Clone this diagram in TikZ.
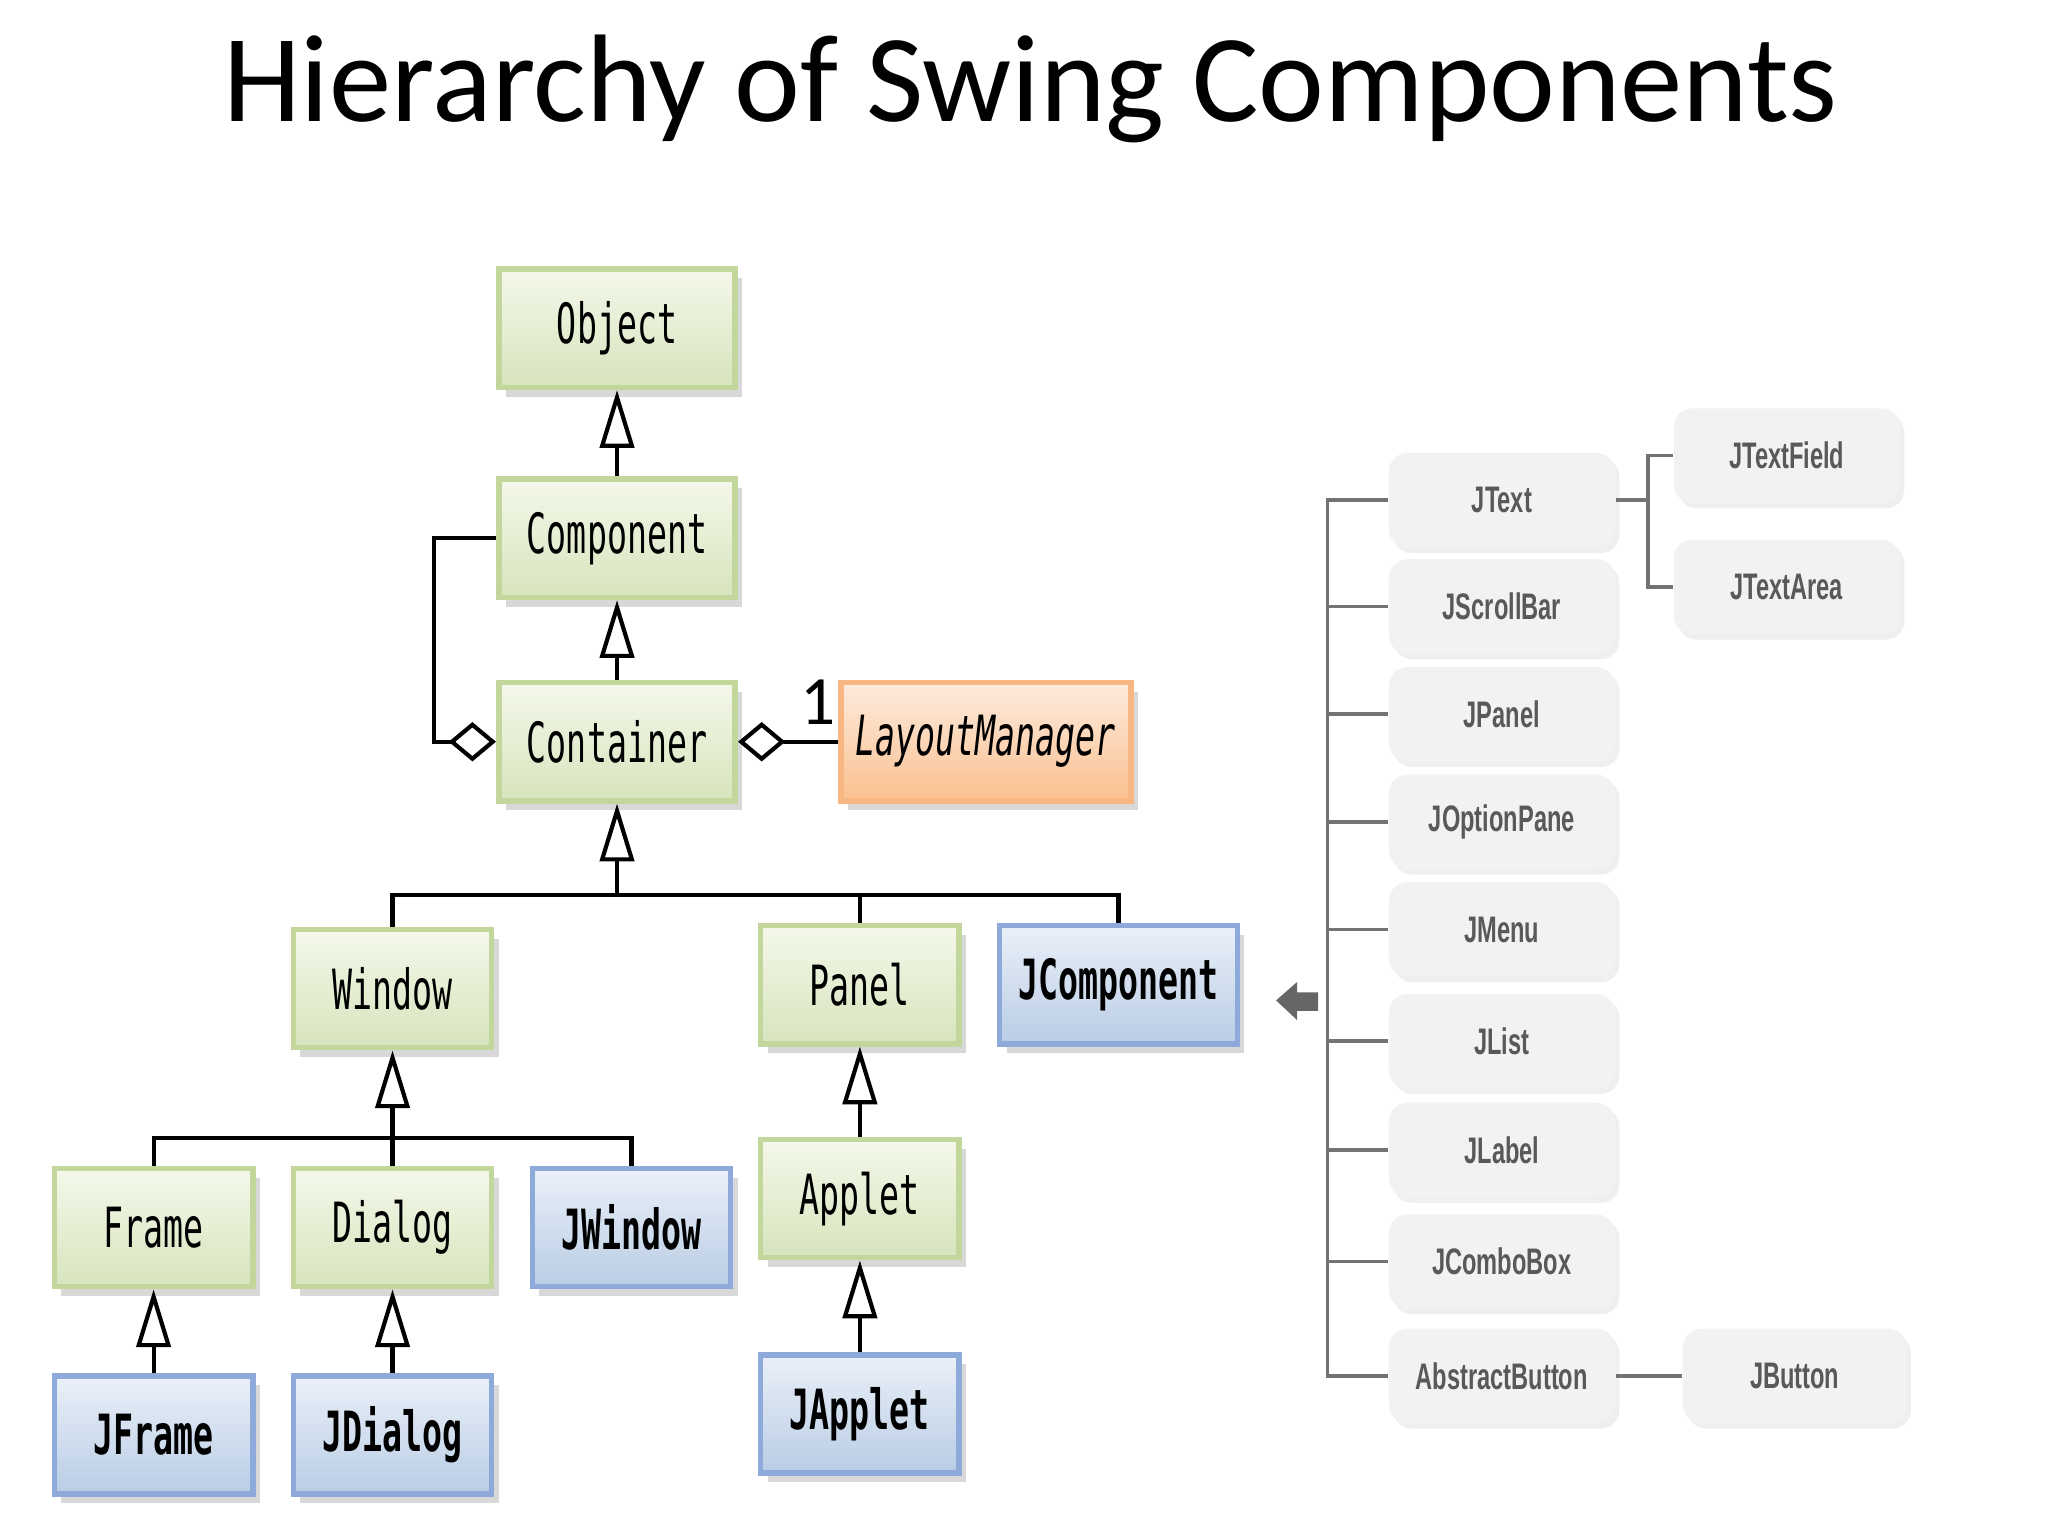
\documentclass[tikz,border=0pt]{standalone}
\usepackage{fontspec}
\setmainfont{Carlito}
\newfontfamily\boxfont[FakeStretch=0.6]{DejaVu Sans Mono}
\newfontfamily\rfont[FakeStretch=0.64]{Liberation Sans}
\usetikzlibrary{arrows.meta,shadows}
\definecolor{gborder}{HTML}{C3D69B}
\definecolor{gtop}{HTML}{F4F8EA}
\definecolor{gbot}{HTML}{D7E4BD}
\definecolor{bborder}{HTML}{8EAADB}
\definecolor{btop}{HTML}{EAF0F8}
\definecolor{bbot}{HTML}{B9CDE5}
\definecolor{oborder}{HTML}{F8B782}
\definecolor{otop}{HTML}{FDEBDD}
\definecolor{obot}{HTML}{FAC090}
\begin{document}
\begin{tikzpicture}[x=0.01cm,y=-0.01cm,
  base/.style={draw,line width=1.2pt,font=\boxfont\fontsize{12pt}{14pt}\selectfont,inner sep=0pt,
    drop shadow={shadow xshift=1.5pt,shadow yshift=-2pt,fill=black!30}},
  gbox/.style={base,draw=gborder,top color=gtop,bottom color=gbot},
  bbox/.style={base,draw=bborder,top color=btop,bottom color=bbot,font=\boxfont\bfseries\fontsize{12pt}{14pt}\selectfont},
  obox/.style={base,draw=oborder,top color=otop,bottom color=obot,font=\boxfont\itshape\fontsize{12pt}{14pt}\selectfont},
  rbox/.style={draw=none,fill=black!5,rounded corners=4pt,minimum width=1.72cm,minimum height=0.72cm,
    font=\rfont\bfseries\fontsize{8pt}{10pt}\selectfont,text=black!65,
    drop shadow={shadow xshift=1pt,shadow yshift=-1.2pt,fill=black!12}},
  inh/.style={-{Triangle[open,length=0.44cm,width=0.26cm,line width=0.9pt]},line width=0.9pt},
  agg/.style={-{Diamond[open,length=0.36cm,width=0.3cm,line width=0.9pt]},line width=0.9pt},
  ln/.style={line width=0.9pt},
  rl/.style={line width=0.8pt,draw=black!55}]
\useasboundingbox (0,0) rectangle (1560,1170);
\node[font=\fontsize{27pt}{32pt}\selectfont] (title) at (785,68) {Hierarchy of Swing Components};
% left boxes
\node[gbox,minimum width=1.8cm,minimum height=0.9cm] (Object) at (470,250) {Object};
\node[gbox,minimum width=1.8cm,minimum height=0.9cm] (Component) at (470,410) {Component};
\node[gbox,minimum width=1.8cm,minimum height=0.9cm] (Container) at (470,565) {Container};
\node[obox,minimum width=2.21cm,minimum height=0.9cm] (Layout) at (751,565) {LayoutManager};
\node[gbox,minimum width=1.51cm,minimum height=0.9cm] (Window) at (299,753) {Window};
\node[gbox,minimum width=1.51cm,minimum height=0.9cm] (Panel) at (655,750) {Panel};
\node[bbox,minimum width=1.81cm,minimum height=0.9cm] (JComponent) at (852,750) {JComponent};
\node[gbox,minimum width=1.51cm,minimum height=0.9cm] (Frame) at (117,935) {Frame};
\node[gbox,minimum width=1.51cm,minimum height=0.9cm] (Dialog) at (299,935) {Dialog};
\node[bbox,minimum width=1.51cm,minimum height=0.9cm] (JWindow) at (481,935) {JWindow};
\node[gbox,minimum width=1.51cm,minimum height=0.9cm] (Applet) at (655,913) {Applet};
\node[bbox,minimum width=1.51cm,minimum height=0.9cm] (JFrame) at (117,1093) {JFrame};
\node[bbox,minimum width=1.51cm,minimum height=0.9cm] (JDialog) at (299,1093) {JDialog};
\node[bbox,minimum width=1.51cm,minimum height=0.9cm] (JApplet) at (655,1077) {JApplet};
% inheritance
\draw[inh] (Component.north) -- (Object.south);
\draw[inh] (Container.north) -- (Component.south);
\coordinate (b1) at (470,682);
\draw[inh] (b1) -- (Container.south);
\draw[ln] (Window.north) |- (b1) -| (JComponent.north);
\draw[ln] (Panel.north) -- (Panel.north |- b1);
\coordinate (b2) at (299,867);
\draw[inh] (b2) -- (Window.south);
\draw[ln] (Frame.north) |- (b2) -| (JWindow.north);
\draw[ln] (Dialog.north) -- (b2);
\draw[inh] (Applet.north) -- (Panel.south);
\draw[inh] (JApplet.north) -- (Applet.south);
\draw[inh] (JFrame.north) -- (Frame.south);
\draw[inh] (JDialog.north) -- (Dialog.south);
% aggregation
\draw[agg] (Component.west) -- ++(-47,0) |- (Container.west);
\draw[agg] (Layout.west) -- (Container.east);
\node[font=\fontsize{15pt}{17pt}\selectfont] (one) at (623,535) {1};
% right side
\node[rbox] (JText) at (1144,381) {JText};
\node[rbox] (JScrollBar) at (1144,462) {JScrollBar};
\node[rbox] (JPanel) at (1144,544) {JPanel};
\node[rbox] (JOptionPane) at (1144,626) {JOptionPane};
\node[rbox] (JMenu) at (1144,708) {JMenu};
\node[rbox] (JList) at (1144,793) {JList};
\node[rbox] (JLabel) at (1144,876) {JLabel};
\node[rbox] (JComboBox) at (1144,961) {JComboBox};
\node[rbox] (AbstractButton) at (1144,1048) {AbstractButton};
\node[rbox] (JTextField) at (1361,347) {JTextField};
\node[rbox] (JTextArea) at (1361,447) {JTextArea};
\node[rbox,minimum width=1.7cm] (JButton) at (1367,1048) {JButton};
\draw[rl] (JText.west) -- ++(-46,0) coordinate (t1) -- (t1 |- AbstractButton.west) -- (AbstractButton.west);
\foreach \n in {JScrollBar,JPanel,JOptionPane,JMenu,JList,JLabel,JComboBox}
  \draw[rl] (\n.west) -- (t1 |- \n.west);
\draw[rl] (JText.east) -- ++(26,0) coordinate (t2);
\draw[rl] (JTextField.west) -- ++(-19,0) coordinate (t3) -- (t3 |- JTextArea.west) -- (JTextArea.west);
\draw[rl] (AbstractButton.east) -- (JButton.west);
% gray arrow
\fill[black!60] (972,762) -- (988,748) -- (988,756) -- (1004,756) -- (1004,770) -- (988,770) -- (988,777) -- cycle;
\end{tikzpicture}
\end{document}
